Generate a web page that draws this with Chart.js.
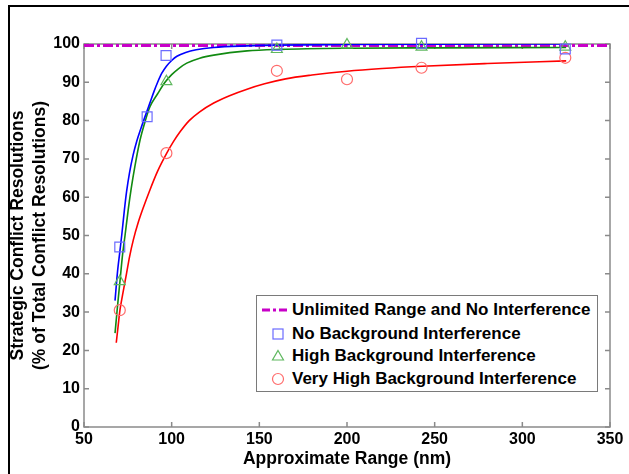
<!DOCTYPE html>
<html><head><meta charset="utf-8">
<script src="https://cdn.jsdelivr.net/npm/chart.js@4.4.0/dist/chart.umd.min.js"></script>
<style>
html,body{margin:0;padding:0;background:#fff;}
#wrap{position:relative;width:629px;height:474px;overflow:hidden;background:#fff;}
#frame{position:absolute;left:8px;top:5px;width:700px;height:600px;border-top:2px solid #000;border-left:2px solid #000;}
#c{position:absolute;left:0;top:0;}
#legend{position:absolute;left:256px;top:295px;width:342px;height:97px;border:1px solid #7a7a7a;background:#fff;font:bold 17px "Liberation Sans",Arial,sans-serif;color:#000;box-sizing:border-box;}
.row{position:absolute;left:0;height:22px;line-height:22px;white-space:nowrap;}
.row svg{position:absolute;left:3px;top:0;}
.row span{position:absolute;left:35px;top:0;}
</style>
</head><body>
<div id="wrap">
<div id="frame"></div>
<canvas id="c" width="629" height="474"></canvas>
<div id="legend"></div>
</div>
<script>
// ---- data ----
const xTicks = [50,100,150,200,250,300,350];
const yTicks = [0,10,20,30,40,50,60,70,80,90,100];
const seriesNames = ['Unlimited Range and No Interference','No Background Interference','High Background Interference','Very High Background Interference'];

const unlimitedX = [50, 350];
const unlimitedY = [99.6, 99.6];

const noBgX = [70.4, 86, 96.8, 160, 242.5, 324.5];
const noBgY = [47, 81, 97, 99.7, 100.2, 98.7];
const highX = [70.4, 97, 160, 200, 242.5, 324.5];
const highY = [38, 90.2, 98.6, 99.8, 99.2, 99.2];
const veryX = [70.4, 97, 160, 200, 242.5, 324.5];
const veryY = [30.5, 71.5, 93, 90.8, 93.8, 96.4];

// fitted curves
const noBgFitX = [67.7,69,70.5,71.5,73,74.3,76,78,80,82.5,85,87.5,90,92,94.3,97,100,103,108,114,124,143,160,200,250,325];
const noBgFitY = [33,40,46,50,56.5,61.5,66.5,71,74.5,78,81.3,84.5,87.7,90,92.3,94.2,95.7,96.8,97.8,98.5,99.1,99.5,99.7,99.85,99.95,100];
const highFitX = [67.7,69,70.5,72,73.4,75.3,77,79,82,85,87.6,92,96.2,100,104,108.6,116,124,143,162,200,250,325];
const highFitY = [24.5,31,38,45,50,57,62.5,68,75,80,83.6,87,90,92,93.6,95,96.3,97.1,98.2,98.6,98.9,99,99.1];
const veryFitX = [68.4,69.5,70.5,72,74.3,76,78.1,81,84,87.6,92,97.2,101,105,110,116,124,133,143,153,165,180,200,220,243,280,325];
const veryFitY = [22,26.5,30.5,34.5,40.2,44.5,48.8,53.5,57.5,61.9,66.8,71.5,74.5,77.2,80,82.3,84.6,86.5,88.2,89.6,90.9,91.9,92.9,93.6,94.2,94.9,95.6];

const pts = (xs, ys) => xs.map((x, i) => ({x, y: ys[i]}));

const FONT = '"Liberation Sans", Arial, sans-serif';
const axisColor = '#8a8a8a';

const boxPlugin = {
  id: 'box',
  beforeDatasetsDraw(chart) {
    const {ctx, chartArea: a, scales: {x, y}} = chart;
    ctx.save();
    ctx.strokeStyle = axisColor;
    ctx.lineWidth = 1.5;
    ctx.beginPath();
    xTicks.forEach(v => {
      const px = x.getPixelForValue(v);
      ctx.moveTo(px, a.bottom); ctx.lineTo(px, a.bottom - 5);
      ctx.moveTo(px, a.top); ctx.lineTo(px, a.top + 5);
    });
    yTicks.forEach(v => {
      const py = y.getPixelForValue(v);
      ctx.moveTo(a.left, py); ctx.lineTo(a.left + 5, py);
      ctx.moveTo(a.right, py); ctx.lineTo(a.right - 5, py);
    });
    ctx.stroke();
    ctx.strokeRect(a.left, a.top, a.right - a.left, a.bottom - a.top);
    ctx.restore();
  }
};

const markerCommon = {showLine: false, backgroundColor: 'rgba(0,0,0,0)', pointBorderWidth: 1.2, clip: false, order: 1};
const curveCommon = {showLine: true, pointRadius: 0, borderWidth: 1.6, cubicInterpolationMode: 'monotone', fill: false, order: 2};

new Chart(document.getElementById('c'), {
  type: 'scatter',
  data: {
    datasets: [
      Object.assign({label: seriesNames[1], data: pts(noBgX, noBgY), pointStyle: 'rect', pointRadius: 7, borderColor: '#6b6bff', pointBorderColor: '#6b6bff'}, markerCommon),
      Object.assign({label: seriesNames[2], data: pts(highX, highY), pointStyle: 'triangle', pointRadius: 6.3, borderColor: '#5fb85f', pointBorderColor: '#5fb85f'}, markerCommon),
      Object.assign({label: seriesNames[3], data: pts(veryX, veryY), pointStyle: 'circle', pointRadius: 5.5, borderColor: '#ff6b6b', pointBorderColor: '#ff6b6b'}, markerCommon),
      Object.assign({label: 'fit1', data: pts(noBgFitX, noBgFitY), borderColor: '#0000ff'}, curveCommon),
      Object.assign({label: 'fit2', data: pts(highFitX, highFitY), borderColor: '#118a11'}, curveCommon),
      Object.assign({label: 'fit3', data: pts(veryFitX, veryFitY), borderColor: '#ff0000'}, curveCommon),
      {label: seriesNames[0], data: pts(unlimitedX, unlimitedY), showLine: true, pointRadius: 0, borderColor: '#c800c8', borderWidth: 3, borderDash: [10, 3, 3, 3], order: 3, clip: false}
    ]
  },
  options: {
    responsive: false,
    animation: false,
    devicePixelRatio: 1,
    layout: {autoPadding: false, padding: {left: 0, top: 44, right: 19, bottom: 0}},
    plugins: {legend: {display: false}, tooltip: {enabled: false}},
    scales: {
      x: {
        type: 'linear', min: 50, max: 350,
        afterBuildTicks: s => { s.ticks = xTicks.map(v => ({value: v})); },
        afterFit: s => { s.height = 47; },
        grid: {display: true, drawOnChartArea: false, drawTicks: false},
        border: {display: false},
        ticks: {color: '#000', padding: 3, font: {family: FONT, size: 16, weight: 'bold'}, maxRotation: 0, autoSkip: false},
        title: {display: true, text: 'Approximate Range (nm)', color: '#000', padding: {top: 0, bottom: 4}, font: {family: FONT, size: 17.5, weight: 'bold', lineHeight: 1.2}}
      },
      y: {
        type: 'linear', min: 0, max: 100,
        afterBuildTicks: s => { s.ticks = yTicks.map(v => ({value: v})); },
        afterFit: s => { s.width = 84; },
        grid: {display: true, drawOnChartArea: false, drawTicks: false},
        border: {display: false},
        ticks: {color: '#000', padding: 4, font: {family: FONT, size: 16, weight: 'bold'}, autoSkip: false},
        title: {display: true, text: ['Strategic Conflict Resolutions', '(% of Total Conflict Resolutions)'], color: '#000', padding: {top: 7, bottom: 0}, font: {family: FONT, size: 17.5, weight: 'bold', lineHeight: 1.25}}
      }
    }
  },
  plugins: [boxPlugin]
});

// legend (HTML, real text)
const legend = document.getElementById('legend');
const rowCenters = [14, 38, 60, 83];
const markers = [
  '<svg width="30" height="22"><line x1="2" y1="11" x2="30" y2="11" stroke="#c800c8" stroke-width="3" stroke-dasharray="8,3,3,3"/></svg>',
  '<svg width="30" height="22"><rect x="13" y="6" width="10" height="10" fill="none" stroke="#6b6bff" stroke-width="1.2"/></svg>',
  '<svg width="30" height="22"><polygon points="18,5.5 23.5,15 12.5,15" fill="none" stroke="#5fb85f" stroke-width="1.2"/></svg>',
  '<svg width="30" height="22"><circle cx="18" cy="11" r="5.5" fill="none" stroke="#ff6b6b" stroke-width="1.2"/></svg>'
];
seriesNames.forEach((name, i) => {
  const r = document.createElement('div');
  r.className = 'row';
  r.style.top = (rowCenters[i] - 11) + 'px';
  r.innerHTML = markers[i] + '<span>' + name + '</span>';
  legend.appendChild(r);
});
</script>
</body></html>
